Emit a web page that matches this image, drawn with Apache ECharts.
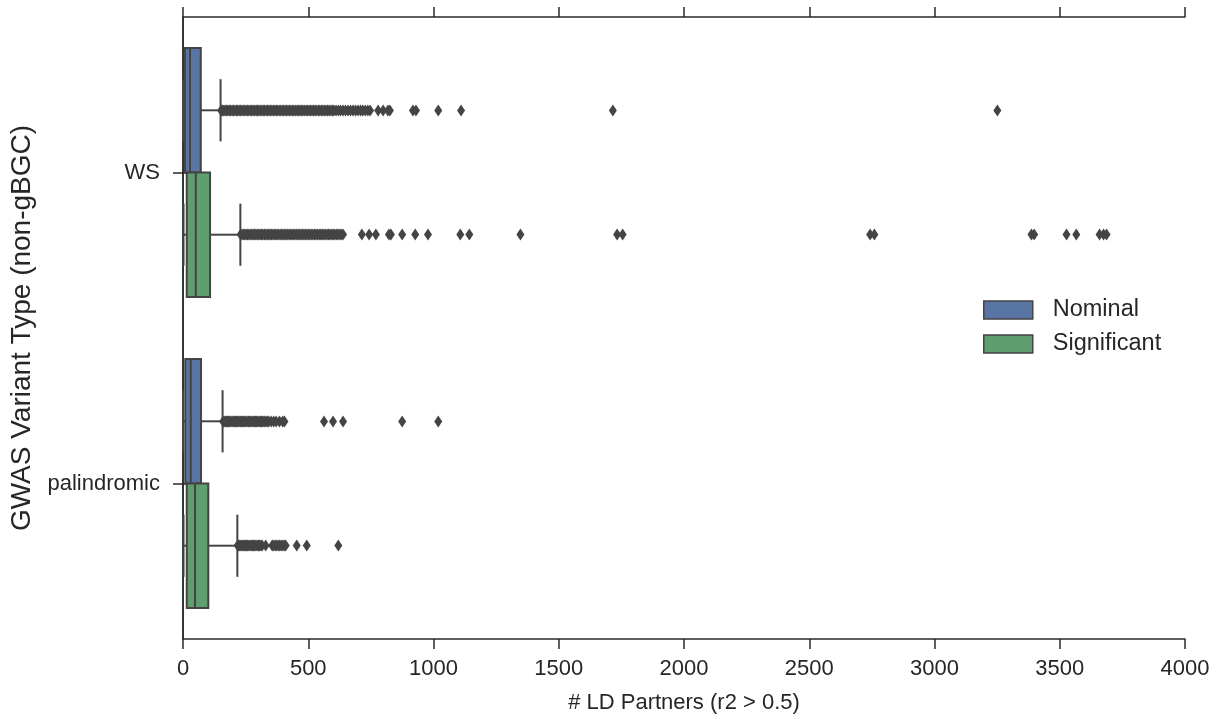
<!DOCTYPE html>
<html>
<head>
<meta charset="utf-8">
<script src="https://cdn.jsdelivr.net/npm/echarts@6/dist/echarts.min.js"></script>
<style>
  html, body { margin: 0; padding: 0; background: #fff; }
  #chart { width: 1222px; height: 719px; }
</style>
</head>
<body>
<div id="chart"></div>
<script>
const categories = ["WS", "palindromic"];
const xTicks = [0, 500, 1000, 1500, 2000, 2500, 3000, 3500, 4000];

// box stats per category: [min, q1, median, q3, upper whisker]
const nominalStats = [
  [0, 8, 28, 71, 150],
  [0, 9, 31, 72, 158]
];
const significantStats = [
  [2, 15, 51, 108, 229],
  [2, 15, 48, 101, 217]
];

// outliers (the dense runs are packed tightly)
const nominalOutWS = [
  152, 157, 163, 168, 174, 179, 185, 190, 196, 201, 207, 213, 218, 224, 229, 235, 241, 246, 252, 258,
  263, 269, 275, 280, 286, 292, 297, 303, 309, 315, 320, 326, 332, 338, 343, 349, 355, 361, 367, 372,
  378, 384, 390, 396, 402, 407, 413, 419, 425, 431, 437, 443, 449, 455, 461, 467, 473, 479, 485, 491,
  497, 503, 509, 515, 521, 527, 533, 540, 546, 552, 558, 564, 571, 577, 583, 590, 596, 602,
  611, 620, 629, 639, 649, 659, 669, 679, 689, 699, 709, 718, 728, 738, 747, 779, 799, 818, 826,
  918, 930, 1019, 1110, 1716, 3251
];
const nominalOutPal = [
  160, 164, 169, 173, 178, 182, 187, 191, 196, 200, 205, 209, 214, 219, 223, 228, 233, 237, 242, 247,
  251, 256, 261, 266, 270, 275, 280, 285, 290, 294, 299, 304, 309, 314, 319, 324, 330, 336, 342,
  352, 362, 372, 385, 398, 405, 563, 599, 639, 875, 1019
];
const significantOutWS = [
  230, 235, 241, 246, 252, 257, 263, 268, 274, 280, 285, 291, 296, 302, 308, 313, 319, 325, 330, 336,
  342, 347, 353, 359, 365, 370, 376, 382, 388, 394, 399, 405, 411, 417, 423, 429, 435, 441, 447, 453,
  459, 465, 471, 477, 483, 489, 495, 501, 507, 513, 519, 525, 531, 537, 544, 550, 556, 562, 568, 575,
  581, 587, 594, 600, 606, 613, 619, 626, 632, 639,
  714, 743, 770, 822, 830, 875, 927, 978, 1107, 1143, 1347, 1733, 1755,
  2743, 2760, 3387, 3398, 3527, 3566, 3659, 3675, 3687
];
const significantOutPal = [
  218, 222, 227, 231, 236, 240, 245, 249, 254, 258, 263, 268, 272, 277, 282, 286, 291, 296, 301, 306,
  311, 316, 330, 356, 362, 368, 374, 380, 386, 392, 398, 404, 410, 454, 494, 620
];

const blue = "#5875A4";
const green = "#5F9E6E";
const lineColor = "#444444";
const textColor = "#262626";
const font = "Liberation Sans";

function boxData(stats) {
  return stats.map((s, i) => [i].concat(s));
}
function outlierData(lists) {
  const out = [];
  lists.forEach((vals, i) => vals.forEach((v) => out.push([v, i])));
  return out;
}

// side: -1 draws above the category centre, +1 below (seaborn hue dodge)
function boxRenderer(side, fill) {
  return function (params, api) {
    const cat = api.value(0);
    const band = api.size([0, 1])[1];
    const half = band * 0.2;
    const cy = api.coord([0, cat])[1] + side * half;
    const x = [1, 2, 3, 4, 5].map((d) => api.coord([api.value(d), cat])[0]);
    const ln = { stroke: lineColor, lineWidth: 2 };
    return {
      type: "group",
      children: [
        { type: "line", shape: { x1: x[0], y1: cy, x2: x[1], y2: cy }, style: ln },
        { type: "line", shape: { x1: x[3], y1: cy, x2: x[4], y2: cy }, style: ln },
        { type: "line", shape: { x1: x[0], y1: cy - half / 2, x2: x[0], y2: cy + half / 2 }, style: ln },
        { type: "line", shape: { x1: x[4], y1: cy - half / 2, x2: x[4], y2: cy + half / 2 }, style: ln },
        {
          type: "rect",
          shape: { x: x[1], y: cy - half, width: x[3] - x[1], height: half * 2 },
          style: { fill: fill, stroke: lineColor, lineWidth: 2 }
        },
        { type: "line", shape: { x1: x[2], y1: cy - half, x2: x[2], y2: cy + half }, style: ln }
      ]
    };
  };
}

const chart = echarts.init(document.getElementById("chart"));

const axisLine = { show: true, lineStyle: { color: "#2a2a2a", width: 1.5 } };
const tick = { show: true, inside: false, length: 10, lineStyle: { color: "#2a2a2a", width: 1.5 } };

chart.setOption({
  animation: false,
  textStyle: { fontFamily: font },
  grid: { left: 183, right: 37, top: 17, bottom: 80, outerBoundsMode: "none", containLabel: false },
  legend: {
    data: ["Nominal", "Significant"],
    orient: "vertical",
    left: 978,
    top: 293,
    icon: "rect",
    itemWidth: 49,
    itemHeight: 18,
    itemGap: 10,
    itemStyle: { borderColor: lineColor, borderWidth: 1.5 },
    textStyle: { fontSize: 23.5, color: textColor, fontFamily: font, padding: [0, 0, 0, 15] }
  },
  xAxis: [
    {
      type: "value",
      position: "bottom",
      min: xTicks[0],
      max: xTicks[xTicks.length - 1],
      interval: 500,
      name: "# LD Partners (r2 > 0.5)",
      nameLocation: "middle",
      nameGap: 53,
      nameTextStyle: { fontSize: 22, color: textColor, fontFamily: font },
      axisLine: axisLine,
      axisTick: tick,
      axisLabel: { fontSize: 22, color: textColor, margin: 19, fontFamily: font, formatter: (v) => String(v) },
      splitLine: { show: false }
    },
    {
      type: "value",
      position: "top",
      min: xTicks[0],
      max: xTicks[xTicks.length - 1],
      interval: 500,
      axisLine: axisLine,
      axisTick: tick,
      axisLabel: { show: false },
      splitLine: { show: false }
    }
  ],
  yAxis: [
    {
      type: "category",
      data: categories,
      inverse: true,
      position: "left",
      name: "GWAS Variant Type (non-gBGC)",
      nameLocation: "middle",
      nameGap: 147,
      nameTextStyle: { fontSize: 28, color: textColor, fontFamily: font },
      axisLine: axisLine,
      axisTick: Object.assign({ alignWithLabel: true }, tick),
      axisLabel: { fontSize: 22, color: textColor, margin: 23, fontFamily: font },
      splitLine: { show: false }
    },
    {
      type: "category",
      data: categories,
      inverse: true,
      position: "right",
      axisLine: axisLine,
      axisTick: Object.assign({ alignWithLabel: true }, tick),
      axisLabel: { show: false },
      splitLine: { show: false }
    }
  ],
  series: [
    {
      name: "Nominal",
      type: "custom",
      renderItem: boxRenderer(-1, blue),
      encode: { x: [1, 2, 3, 4, 5], y: 0 },
      itemStyle: { color: blue },
      data: boxData(nominalStats),
      z: 3
    },
    {
      name: "Significant",
      type: "custom",
      renderItem: boxRenderer(1, green),
      encode: { x: [1, 2, 3, 4, 5], y: 0 },
      itemStyle: { color: green },
      data: boxData(significantStats),
      z: 3
    },
    {
      name: "Nominal outliers",
      type: "scatter",
      symbol: "diamond",
      symbolSize: [8, 12],
      symbolOffset: [0, -62],
      itemStyle: { color: lineColor, opacity: 1 },
      data: outlierData([nominalOutWS, nominalOutPal]),
      z: 4
    },
    {
      name: "Significant outliers",
      type: "scatter",
      symbol: "diamond",
      symbolSize: [8, 12],
      symbolOffset: [0, 62],
      itemStyle: { color: lineColor, opacity: 1 },
      data: outlierData([significantOutWS, significantOutPal]),
      z: 4
    }
  ]
});

window.addEventListener("resize", () => chart.resize());
</script>
</body>
</html>
